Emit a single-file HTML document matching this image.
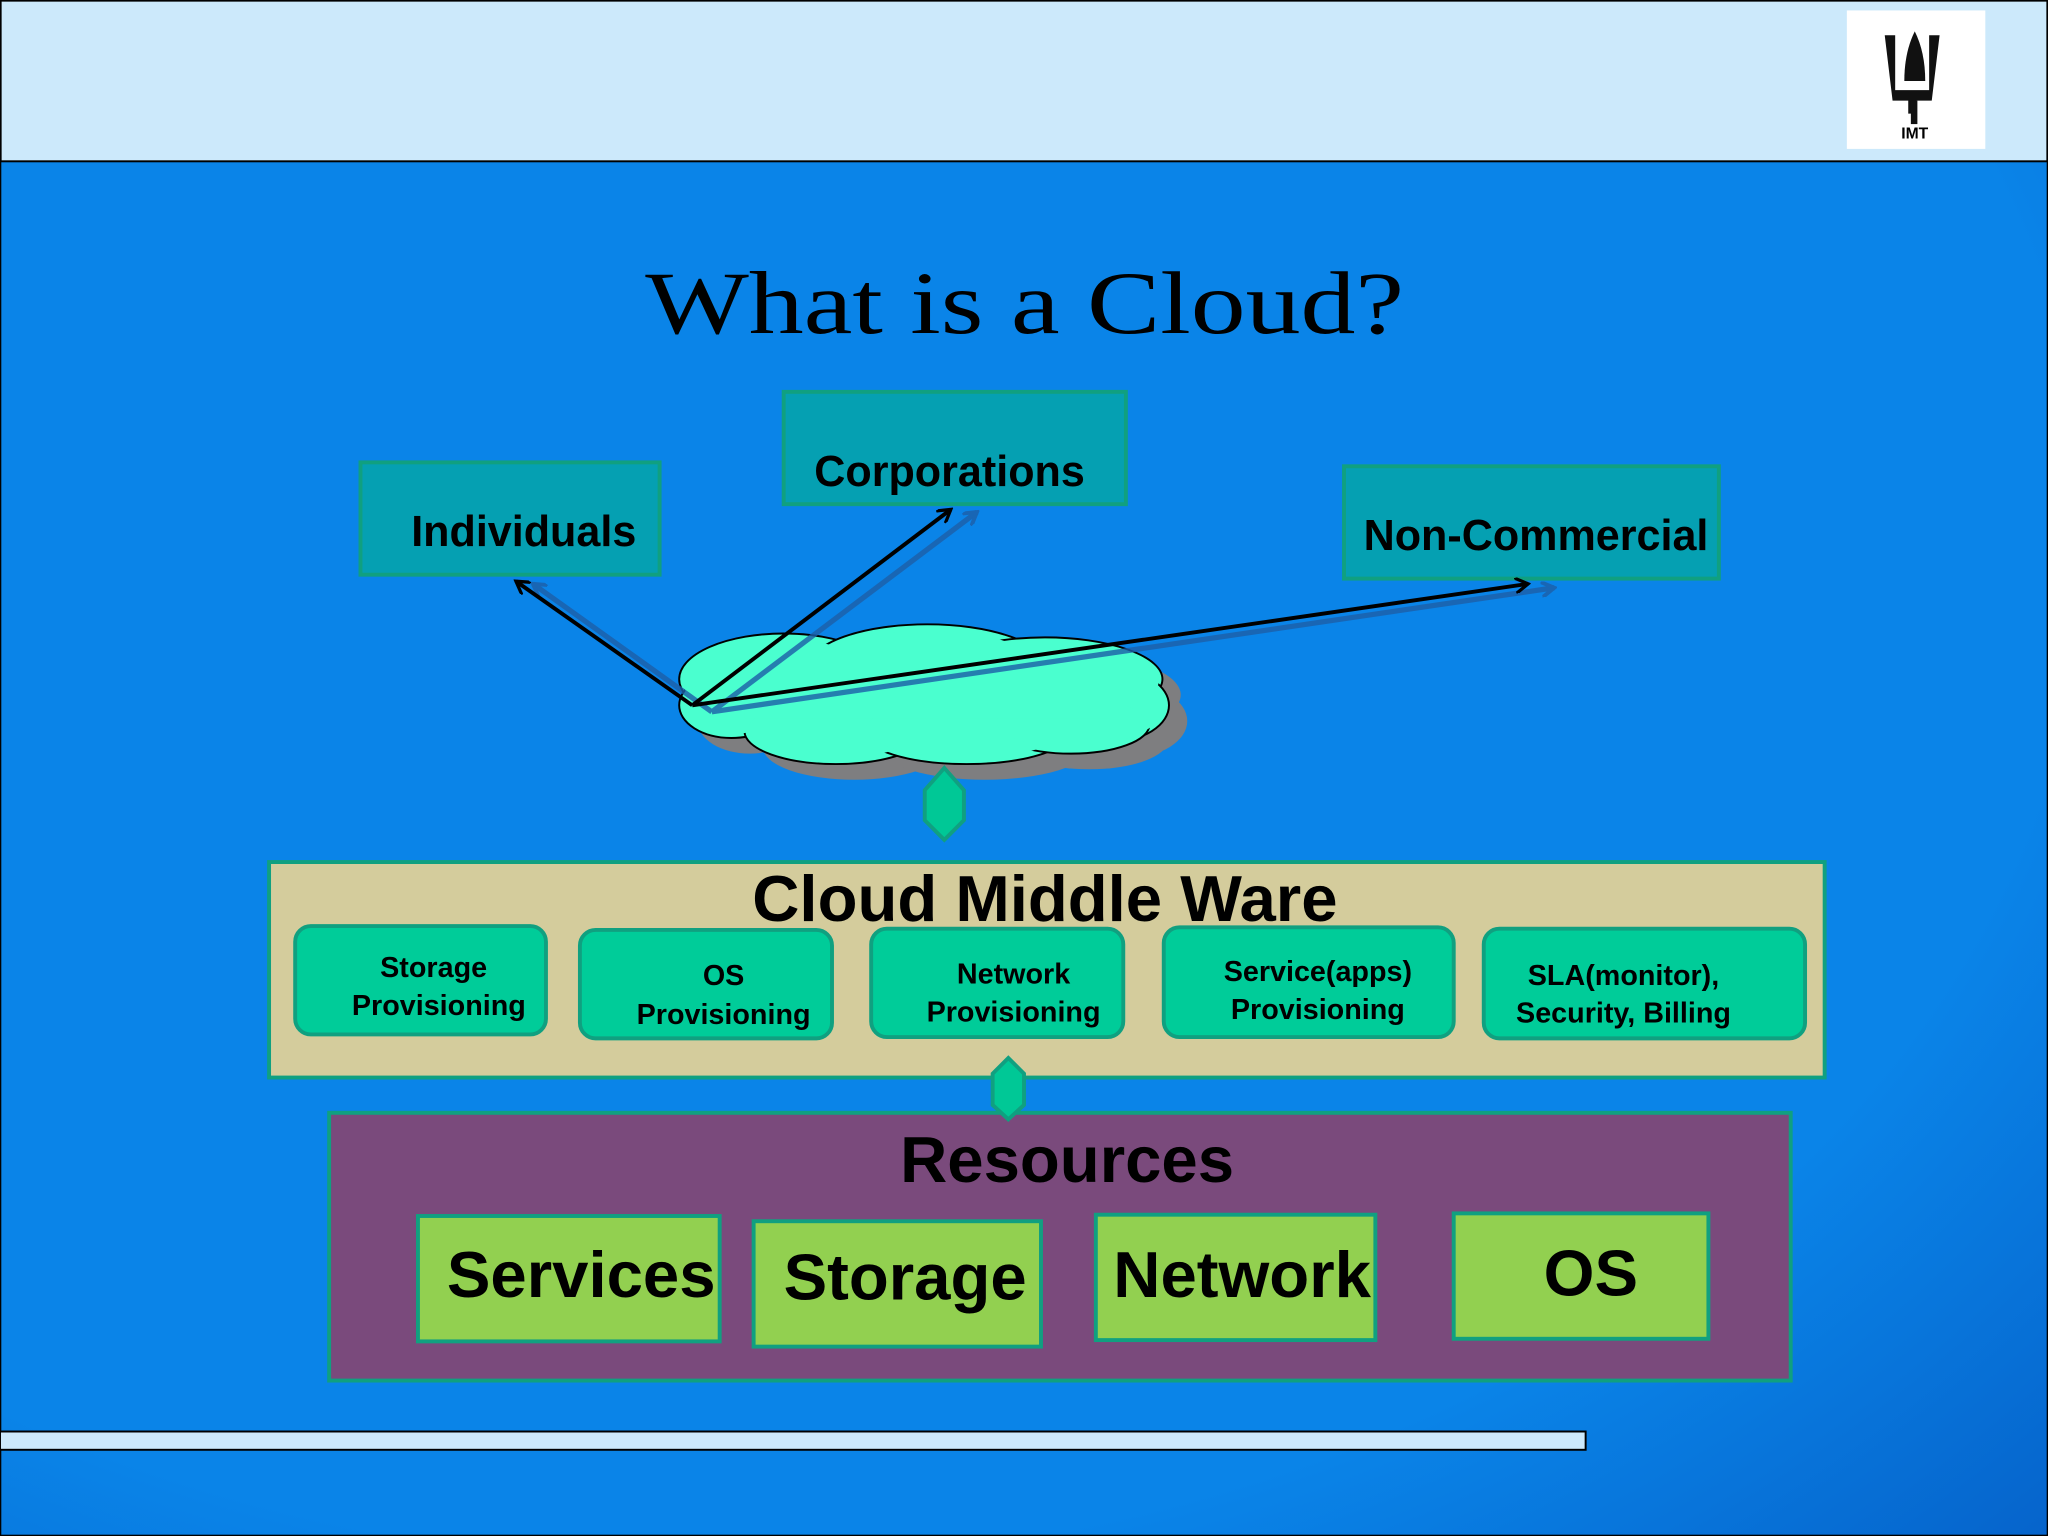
<!DOCTYPE html>
<html><head><meta charset="utf-8"><style>
html,body{margin:0;padding:0;}
body{width:2048px;height:1536px;overflow:hidden;}
svg{display:block;}
text{font-family:"Liberation Sans",sans-serif;font-weight:bold;fill:#000;}
</style></head><body>
<svg width="2048" height="1536" viewBox="0 0 1568 1176" xmlns="http://www.w3.org/2000/svg">
<defs>
<radialGradient id="bg" cx="0.35" cy="0.35" r="0.95">
<stop offset="0.7" stop-color="#0a84e8"/><stop offset="1" stop-color="#0560c8"/>
</radialGradient>
<marker id="ah" markerWidth="12" markerHeight="12" refX="10" refY="6" orient="auto" markerUnits="userSpaceOnUse">
<path d="M0,0 L10,6 L0,12" fill="none" stroke="#000" stroke-width="2.5"/></marker>
<marker id="ahs" markerWidth="12" markerHeight="12" refX="10" refY="6" orient="auto" markerUnits="userSpaceOnUse">
<path d="M0,0 L10,6 L0,12" fill="none" stroke="#1d5fa8" stroke-width="3"/></marker>
</defs>
<rect x="0" y="0" width="1568" height="1176" fill="url(#bg)" stroke="#000" stroke-width="2"/>
<rect x="0.5" y="0.5" width="1567" height="123" fill="#cce9fb" stroke="#000" stroke-width="1.5"/>
<rect x="1414" y="8" width="106" height="106" fill="#fff"/>
<g fill="#111">
<path d="M1443,27 h8 v42 h26 v-42 h8 l-6 50 h-12 v10 h-6 v-10 h-12 z"/>
<path d="M1458,62 q0,-22 8,-38 q8,16 8,38 z"/>
<rect x="1463" y="77" width="5" height="18"/>
<text x="1466" y="106" font-size="12" text-anchor="middle" style="font-weight:bold">IMT</text>
</g>
<text x="494" y="255" font-size="68" textLength="581" lengthAdjust="spacingAndGlyphs" style="font-family:'Liberation Serif',serif;font-weight:normal">What is a Cloud?</text>

<rect x="276" y="354" width="229" height="86" fill="#05a0b2" stroke="#10a080" stroke-width="3"/>
<text x="401" y="418" font-size="33" text-anchor="middle">Individuals</text>
<rect x="600" y="300" width="262" height="86" fill="#05a0b2" stroke="#10a080" stroke-width="3"/>
<text x="727" y="372" font-size="33" text-anchor="middle">Corporations</text>
<rect x="1029" y="357" width="287" height="86" fill="#05a0b2" stroke="#10a080" stroke-width="3"/>
<text x="1176" y="421" font-size="33" text-anchor="middle">Non-Commercial</text>

<g transform="translate(14,12)" fill="#7e7e80">
<ellipse cx="600" cy="520" rx="80" ry="35"/><ellipse cx="710" cy="510" rx="90" ry="32"/>
<ellipse cx="800" cy="520" rx="90" ry="32"/><ellipse cx="560" cy="540" rx="40" ry="25"/>
<ellipse cx="850" cy="540" rx="45" ry="28"/><ellipse cx="640" cy="560" rx="70" ry="25"/>
<ellipse cx="740" cy="560" rx="80" ry="25"/><ellipse cx="820" cy="555" rx="60" ry="22"/>
</g>
<g fill="#4affcf" stroke="#000" stroke-width="1.5">
<ellipse cx="600" cy="520" rx="80" ry="35"/><ellipse cx="710" cy="510" rx="90" ry="32"/>
<ellipse cx="800" cy="520" rx="90" ry="32"/><ellipse cx="560" cy="540" rx="40" ry="25"/>
<ellipse cx="850" cy="540" rx="45" ry="28"/><ellipse cx="640" cy="560" rx="70" ry="25"/>
<ellipse cx="740" cy="560" rx="80" ry="25"/><ellipse cx="820" cy="555" rx="60" ry="22"/>
</g>
<g fill="#4affcf">
<ellipse cx="600" cy="522" rx="77" ry="32"/><ellipse cx="710" cy="512" rx="87" ry="29"/>
<ellipse cx="800" cy="522" rx="87" ry="29"/><ellipse cx="560" cy="540" rx="37" ry="22"/>
<ellipse cx="850" cy="540" rx="42" ry="25"/><ellipse cx="640" cy="558" rx="67" ry="22"/>
<ellipse cx="740" cy="558" rx="77" ry="22"/><ellipse cx="820" cy="553" rx="57" ry="19"/>
<rect x="570" y="520" width="280" height="30"/>
</g>

<g stroke="#1d5fa8" stroke-width="4" opacity="0.8" fill="none">
<line x1="545" y1="545" x2="408" y2="447" marker-end="url(#ahs)"/>
<line x1="545" y1="545" x2="748" y2="392" marker-end="url(#ahs)"/>
<line x1="545" y1="545" x2="1190" y2="450" marker-end="url(#ahs)"/>
</g>
<g stroke="#000" stroke-width="3" fill="none">
<line x1="530" y1="540" x2="395" y2="445" marker-end="url(#ah)"/>
<line x1="530" y1="540" x2="728" y2="390" marker-end="url(#ah)"/>
<line x1="530" y1="540" x2="1170" y2="447" marker-end="url(#ah)"/>
</g>

<polygon points="723,588 738,605 738,628 723,643 708,628 708,605" fill="#00c896" stroke="#10a080" stroke-width="3"/>

<rect x="206" y="660" width="1191" height="165" fill="#d4cc9c" stroke="#10a080" stroke-width="3"/>
<text x="800" y="705" font-size="50" text-anchor="middle">Cloud Middle Ware</text>
<g fill="#00cc99" stroke="#10a080" stroke-width="3">
<rect x="226" y="709" width="192" height="83" rx="12"/>
<rect x="444" y="712" width="193" height="83" rx="12"/>
<rect x="667" y="711" width="193" height="83" rx="12"/>
<rect x="891" y="710" width="222" height="84" rx="12"/>
<rect x="1136" y="711" width="246" height="84" rx="12"/>
</g>
<g font-size="22">
<text x="332" y="748" text-anchor="middle">Storage</text><text x="336" y="777" text-anchor="middle">Provisioning</text>
<text x="554" y="754" text-anchor="middle">OS</text><text x="554" y="784" text-anchor="middle">Provisioning</text>
<text x="776" y="753" text-anchor="middle">Network</text><text x="776" y="782" text-anchor="middle">Provisioning</text>
<text x="1009" y="751" text-anchor="middle">Service(apps)</text><text x="1009" y="780" text-anchor="middle">Provisioning</text>
<text x="1243" y="754" text-anchor="middle">SLA(monitor),</text><text x="1243" y="783" text-anchor="middle">Security, Billing</text>
</g>

<rect x="252" y="852" width="1119" height="205" fill="#7a4a7c" stroke="#10a080" stroke-width="3"/>
<polygon points="772,810 784,822 784,846 772,857 760,846 760,822" fill="#00c896" stroke="#10a080" stroke-width="3"/>
<text x="817" y="905" font-size="50" text-anchor="middle">Resources</text>
<g fill="#92d050" stroke="#10a080" stroke-width="3">
<rect x="320" y="931" width="231" height="96"/>
<rect x="577" y="935" width="220" height="96"/>
<rect x="839" y="930" width="214" height="96"/>
<rect x="1113" y="929" width="195" height="96"/>
</g>
<g font-size="50">
<text x="445" y="993" text-anchor="middle">Services</text>
<text x="693" y="995" text-anchor="middle">Storage</text>
<text x="951" y="993" text-anchor="middle">Network</text>
<text x="1218" y="992" text-anchor="middle">OS</text>
</g>
<rect x="0" y="1096" width="1214" height="14" fill="#cce9fb" stroke="#000" stroke-width="1.5"/>
</svg>
</body></html>
